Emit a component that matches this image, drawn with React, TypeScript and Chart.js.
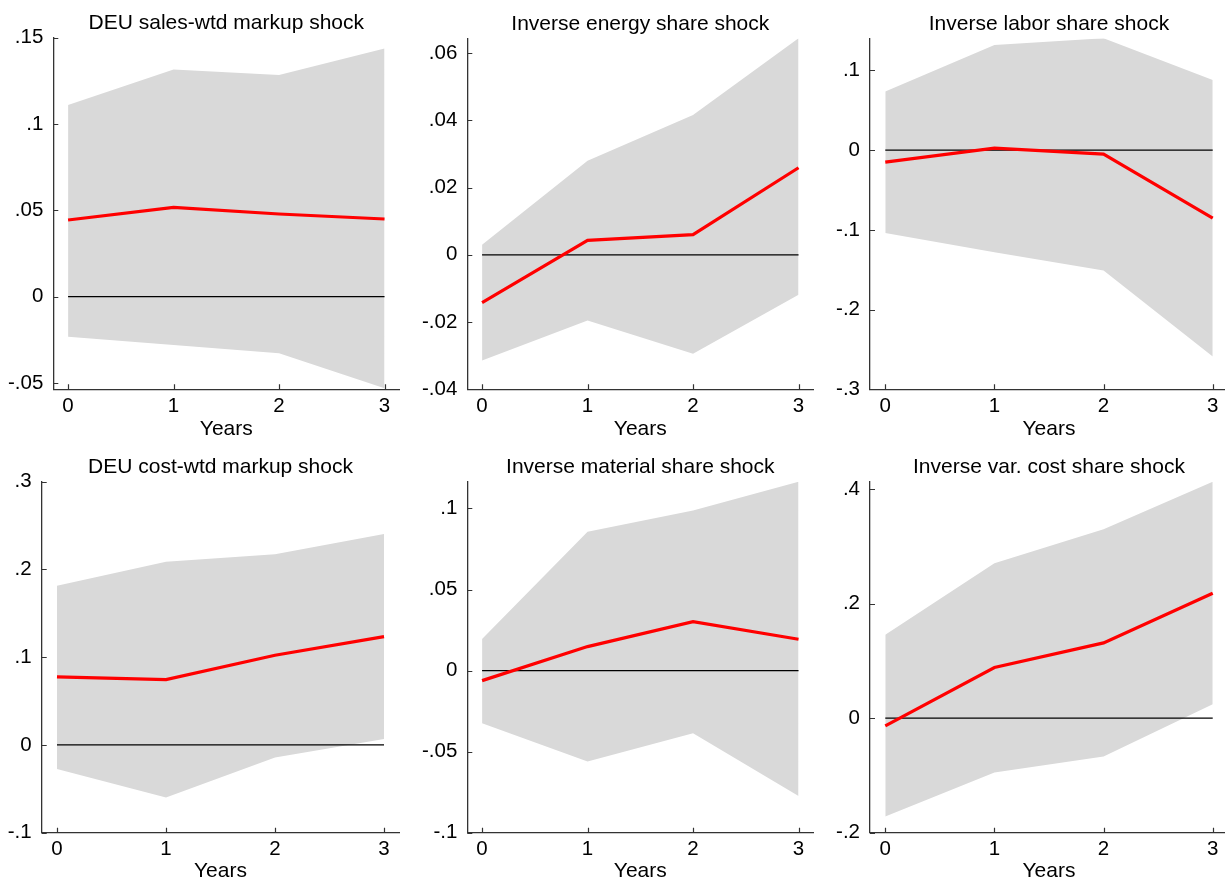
import React, { useEffect, useRef } from "react";
import { Chart, registerables } from "chart.js";

Chart.register(...registerables);

const FONT = '"Liberation Sans", Arial, Helvetica, sans-serif';

// Horizon in years
const YEARS = [0, 1, 2, 3];
const ZERO = [0, 0, 0, 0];

// DEU sales-weighted markup
const salesIrf = [0.0444, 0.0517, 0.0479, 0.045];
const salesUpper = [0.111, 0.1317, 0.1284, 0.1438];
const salesLower = [-0.0232, -0.028, -0.0328, -0.0531];
const salesTicks = [-0.05, 0, 0.05, 0.1, 0.15];

// Inverse energy share
const energyIrf = [-0.0142, 0.0043, 0.006, 0.0259];
const energyUpper = [0.003, 0.028, 0.0416, 0.0644];
const energyLower = [-0.0314, -0.0195, -0.0294, -0.0119];
const energyTicks = [-0.04, -0.02, 0, 0.02, 0.04, 0.06];

// Inverse labor share
const laborIrf = [-0.015, 0.0025, -0.005, -0.0852];
const laborUpper = [0.0735, 0.132, 0.1404, 0.0882];
const laborLower = [-0.104, -0.128, -0.151, -0.2587];
const laborTicks = [-0.3, -0.2, -0.1, 0, 0.1];

// DEU cost-weighted markup
const costIrf = [0.0775, 0.0744, 0.1022, 0.1234];
const costUpper = [0.1815, 0.2089, 0.2172, 0.2404];
const costLower = [-0.0273, -0.06, -0.0144, 0.0068];
const costTicks = [-0.1, 0, 0.1, 0.2, 0.3];

// Inverse material share
const materialIrf = [-0.0062, 0.0148, 0.0302, 0.0193];
const materialUpper = [0.0195, 0.0857, 0.0988, 0.1165];
const materialLower = [-0.0325, -0.0561, -0.0386, -0.0773];
const materialTicks = [-0.1, -0.05, 0, 0.05, 0.1];

// Inverse variable cost share
const varCostIrf = [-0.0134, 0.0885, 0.1315, 0.2183];
const varCostUpper = [0.1455, 0.2706, 0.33, 0.413];
const varCostLower = [-0.1717, -0.0949, -0.0669, 0.0244];
const varCostTicks = [-0.2, 0, 0.2, 0.4];

type Box = {
  cx: number; cy: number; cw: number; ch: number;
  left: number; right: number; top: number; bottom: number;
};

type PanelSpec = {
  title: string;
  irf: number[];
  upper: number[];
  lower: number[];
  ticks: number[];
  yMin: number;
  yMax: number;
  box: Box;
};

const PANELS: PanelSpec[] = [
  {
    title: "DEU sales-wtd markup shock",
    irf: salesIrf, upper: salesUpper, lower: salesLower, ticks: salesTicks,
    yMin: -0.0537, yMax: 0.15,
    box: { cx: 0, cy: 0, cw: 410, ch: 440, left: 53.3, right: 399.3, top: 37.8, bottom: 389.3 },
  },
  {
    title: "Inverse energy share shock",
    irf: energyIrf, upper: energyUpper, lower: energyLower, ticks: energyTicks,
    yMin: -0.04, yMax: 0.0644,
    box: { cx: 410, cy: 0, cw: 405, ch: 440, left: 467.3, right: 813.3, top: 38.3, bottom: 389.3 },
  },
  {
    title: "Inverse labor share shock",
    irf: laborIrf, upper: laborUpper, lower: laborLower, ticks: laborTicks,
    yMin: -0.3, yMax: 0.1404,
    box: { cx: 815, cy: 0, cw: 415, ch: 440, left: 870, right: 1228, top: 38.3, bottom: 389.3 },
  },
  {
    title: "DEU cost-wtd markup shock",
    irf: costIrf, upper: costUpper, lower: costLower, ticks: costTicks,
    yMin: -0.1, yMax: 0.3,
    box: { cx: 0, cy: 440, cw: 410, ch: 442, left: 41.7, right: 399.3, top: 481.7, bottom: 832.7 },
  },
  {
    title: "Inverse material share shock",
    irf: materialIrf, upper: materialUpper, lower: materialLower, ticks: materialTicks,
    yMin: -0.1, yMax: 0.1165,
    box: { cx: 410, cy: 440, cw: 405, ch: 442, left: 467.3, right: 813.3, top: 481.7, bottom: 832.7 },
  },
  {
    title: "Inverse var. cost share shock",
    irf: varCostIrf, upper: varCostUpper, lower: varCostLower, ticks: varCostTicks,
    yMin: -0.2, yMax: 0.413,
    box: { cx: 815, cy: 440, cw: 415, ch: 442, left: 870, right: 1228, top: 481.7, bottom: 832.7 },
  },
];

const AXIS_COLOR = "#333333";

// Stata-style number labels: ".05", "-.1", "0"
function fmt(v: number): string {
  const n = Number(v.toFixed(4));
  if (n === 0) return "0";
  return String(n).replace(/^(-?)0\./, "$1.");
}

const toPoints = (ys: number[]) => YEARS.map((x, i) => ({ x, y: ys[i] }));

// Panel heading centred over the plot area
const headingPlugin = {
  id: "panelHeading",
  afterDraw(chart: any, _args: any, opts: any) {
    const { ctx, chartArea } = chart;
    ctx.save();
    ctx.font = `21px ${FONT}`;
    ctx.fillStyle = "#000";
    ctx.textAlign = "center";
    ctx.textBaseline = "alphabetic";
    ctx.fillText(opts.text, (chartArea.left + chartArea.right) / 2, chartArea.top - 8.5);
    ctx.restore();
  },
};

// Short tick marks pointing into the plot area
const innerTicksPlugin = {
  id: "innerTicks",
  afterDraw(chart: any) {
    const { ctx, chartArea, scales } = chart;
    ctx.save();
    ctx.strokeStyle = AXIS_COLOR;
    ctx.lineWidth = 1.2;
    ctx.beginPath();
    for (const t of scales.y.ticks) {
      const y = Math.round(scales.y.getPixelForValue(t.value)) + 0.5;
      ctx.moveTo(chartArea.left, y);
      ctx.lineTo(chartArea.left + 5, y);
    }
    for (const t of scales.x.ticks) {
      const x = Math.round(scales.x.getPixelForValue(t.value)) + 0.5;
      ctx.moveTo(x, chartArea.bottom);
      ctx.lineTo(x, chartArea.bottom - 5);
    }
    ctx.stroke();
    ctx.restore();
  },
};

function Panel({ spec }: { spec: PanelSpec }) {
  const ref = useRef<HTMLCanvasElement | null>(null);
  const { box } = spec;

  useEffect(() => {
    if (!ref.current) return;
    const yWidth = box.left - box.cx;
    const xHeight = box.ch - (box.bottom - box.cy);
    const chart = new Chart(ref.current, {
      type: "line",
      data: {
        datasets: [
          {
            data: toPoints(spec.irf),
            borderColor: "#ff0000",
            borderWidth: 3.2,
            pointRadius: 0,
            fill: false,
            tension: 0,
          },
          {
            data: toPoints(ZERO),
            borderColor: "#000000",
            borderWidth: 1.3,
            pointRadius: 0,
            fill: false,
          },
          {
            data: toPoints(spec.upper),
            borderColor: "rgba(0,0,0,0)",
            borderWidth: 0,
            backgroundColor: "#d9d9d9",
            pointRadius: 0,
            fill: "+1",
          },
          {
            data: toPoints(spec.lower),
            borderColor: "rgba(0,0,0,0)",
            borderWidth: 0,
            pointRadius: 0,
            fill: false,
          },
        ],
      },
      options: {
        animation: false,
        responsive: false,
        devicePixelRatio: 1,
        events: [],
        layout: {
          padding: {
            left: 0,
            top: box.top - box.cy,
            right: box.cw - (box.right - box.cx),
            bottom: 0,
          },
        },
        plugins: {
          legend: { display: false },
          tooltip: { enabled: false },
          panelHeading: { text: spec.title },
        } as any,
        scales: {
          x: {
            type: "linear",
            min: -0.14,
            max: 3.14,
            afterBuildTicks: (s: any) => {
              s.ticks = YEARS.map((v) => ({ value: v }));
            },
            afterFit: (s: any) => {
              s.height = xHeight;
            },
            grid: { display: true, drawOnChartArea: false, drawTicks: false },
            border: { display: true, color: AXIS_COLOR, width: 1.3 },
            ticks: {
              color: "#000",
              font: { family: FONT, size: 20.5, lineHeight: 1.2 },
              padding: 4.5,
              maxRotation: 0,
              autoSkip: false,
              callback: (v: any) => String(v),
            },
            title: {
              display: true,
              text: "Years",
              color: "#000",
              font: { family: FONT, size: 21, lineHeight: 1 },
              padding: { top: 0, bottom: 0 },
            },
          },
          y: {
            type: "linear",
            min: spec.yMin,
            max: spec.yMax,
            afterBuildTicks: (s: any) => {
              s.ticks = spec.ticks.map((v) => ({ value: v }));
            },
            afterFit: (s: any) => {
              s.width = yWidth;
            },
            grid: { display: true, drawOnChartArea: false, drawTicks: false },
            border: { display: true, color: AXIS_COLOR, width: 1.3 },
            ticks: {
              color: "#000",
              font: { family: FONT, size: 20.5, lineHeight: 1.2 },
              padding: 10,
              autoSkip: false,
              callback: (v: any) => fmt(Number(v)),
            },
          },
        },
      },
      plugins: [headingPlugin, innerTicksPlugin],
    } as any);
    return () => chart.destroy();
  }, [spec]);

  return (
    <canvas
      ref={ref}
      width={box.cw}
      height={box.ch}
      style={{
        position: "absolute",
        left: box.cx,
        top: box.cy,
        width: box.cw,
        height: box.ch,
      }}
    />
  );
}

export default function App() {
  return (
    <div
      style={{
        position: "absolute",
        left: 0,
        top: 0,
        width: 1225,
        height: 882,
        overflow: "hidden",
        background: "#ffffff",
      }}
    >
      {PANELS.map((p) => (
        <Panel key={p.title} spec={p} />
      ))}
    </div>
  );
}
